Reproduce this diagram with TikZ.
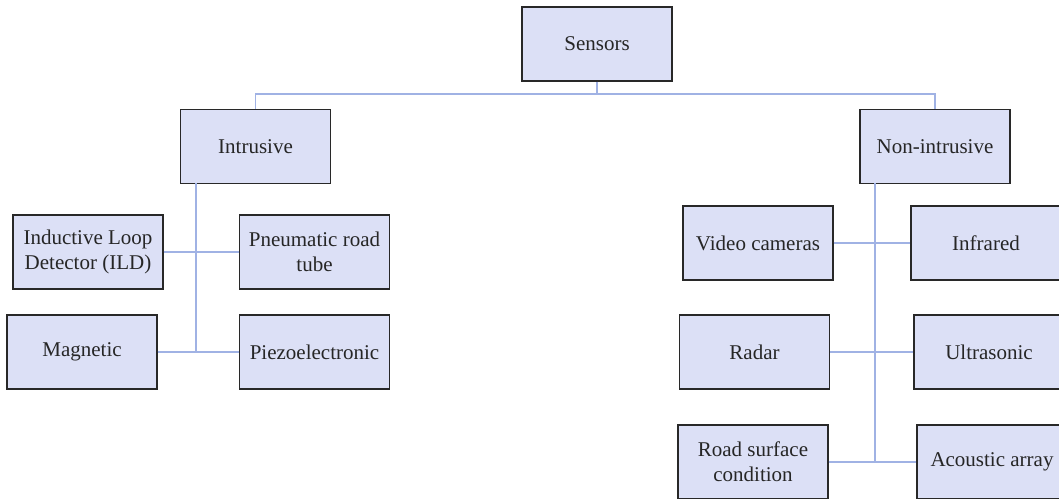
\documentclass[tikz,border=0pt]{standalone}
\usepackage{fontspec}
\setmainfont{Liberation Serif}
\definecolor{boxfill}{RGB}{220,224,246}
\definecolor{boxedge}{RGB}{40,40,40}
\definecolor{linkblue}{RGB}{160,178,228}
\begin{document}
\begin{tikzpicture}[x=1pt,y=-1pt,
  sensorbox/.style={draw=boxedge, fill=boxfill, line width=1.3pt,
    minimum width=150pt, minimum height=74pt, align=center, inner sep=2pt,
    font=\fontsize{21}{25}\selectfont, text=black!85},
  link/.style={draw=linkblue, line width=1.4pt}]
\useasboundingbox (0,0) rectangle (1059,498);

% root and the two families
\node[sensorbox] (sensors) at (597,44) {Sensors};
\node[sensorbox] (intr) at (255.5,146.5) {Intrusive};
\node[sensorbox] (nonintr) at (935,146.5) {Non-intrusive};

% intrusive sensors
\node[sensorbox] (ild) at (88,252) {Inductive Loop\\Detector (ILD)};
\node[sensorbox] (pneu) at (314.5,252) {Pneumatic road\\tube};
\node[sensorbox] (mag) at (82,352) {Magnetic};
\node[sensorbox] (piezo) at (314.5,352) {Piezoelectronic};

% non-intrusive sensors
\node[sensorbox] (video) at (758,243) {Video cameras};
\node[sensorbox] (infra) at (986,243) {Infrared};
\node[sensorbox] (radar) at (754.5,352) {Radar};
\node[sensorbox] (ultra) at (989,352) {Ultrasonic};
\node[sensorbox] (road) at (753,462) {Road surface\\condition};
\node[sensorbox] (acou) at (992,462) {Acoustic array};

% tree bus
\coordinate (bus) at (597,94);
\coordinate (ltop) at (196,183);
\coordinate (lbot) at (196,352);
\coordinate (rtop) at (875,183);
\coordinate (rbot) at (875,462);

\draw[link] (sensors.south) -- (bus);
\draw[link] (intr.north) |- (bus) -| (nonintr.north);
\draw[link] (ltop) -- (lbot);
\draw[link] (ild.east) -- (pneu.west);
\draw[link] (mag.east) -- (piezo.west);
\draw[link] (rtop) -- (rbot);
\draw[link] (video.east) -- (infra.west);
\draw[link] (radar.east) -- (ultra.west);
\draw[link] (road.east) -- (acou.west);
\end{tikzpicture}
\end{document}
